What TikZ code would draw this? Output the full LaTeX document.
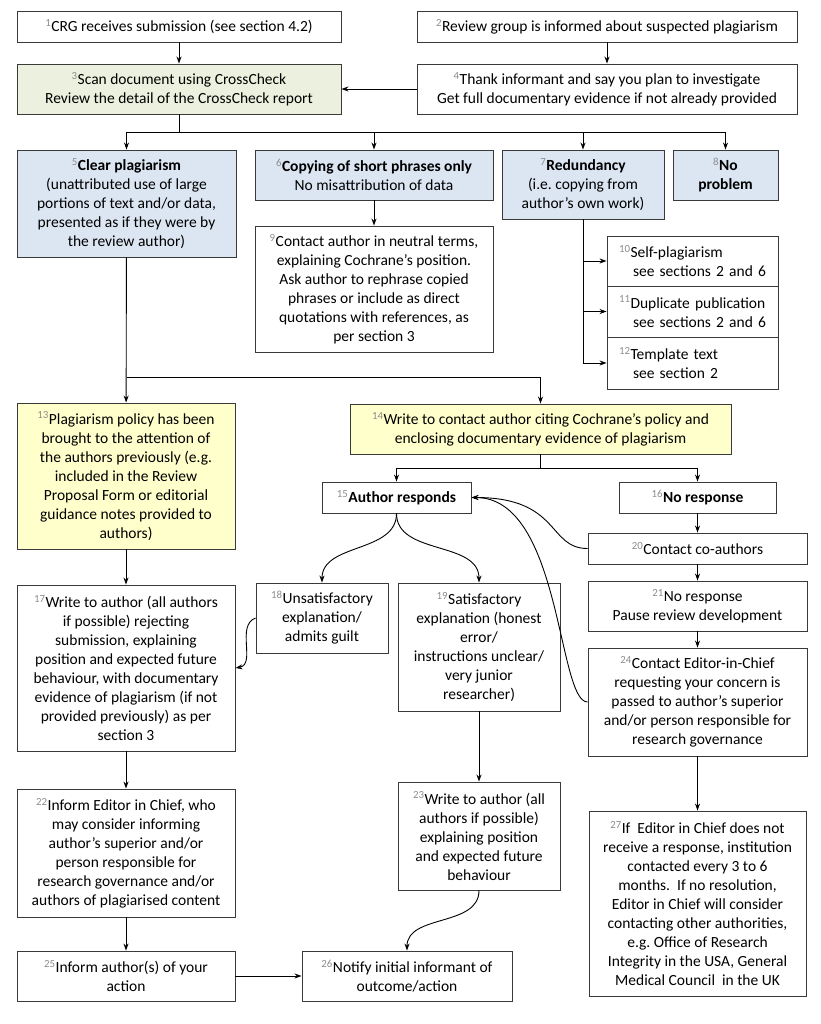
\documentclass[tikz,border=0pt]{standalone}
\usepackage{fontspec}
\setmainfont{Carlito}
\usepackage{tikz}
\usetikzlibrary{arrows.meta}
\definecolor{scanfill}{HTML}{EBF1DE}
\definecolor{typefill}{HTML}{DCE6F2}
\definecolor{notefill}{HTML}{FFFFCC}
\definecolor{edge}{HTML}{3A3A3A}
\definecolor{numgray}{HTML}{8C8C8C}
\newcommand{\stepno}[1]{\textsuperscript{\color{numgray}#1}}

\begin{document}
\begin{tikzpicture}[x=1pt, y=-1pt, font=\fontsize{15.5}{19}\selectfont,
  box/.style={draw=edge, line width=0.9pt, align=center, inner sep=2pt},
  arr/.style={-{Stealth[length=7pt, width=5pt]}, line width=0.9pt},
  link/.style={line width=0.9pt}]
  \useasboundingbox (0,0) rectangle (820,1024);
  % intake
  \node[box, minimum width=324, minimum height=31] (n1) at (179,26.5)
    {\stepno{1}CRG receives submission (see section 4.2)};
  \node[box, minimum width=380, minimum height=31] (n2) at (607,26.5)
    {\stepno{2}Review group is informed about suspected plagiarism};
  \node[box, fill=scanfill, minimum width=324, minimum height=50] (n3) at (179,89)
    {\stepno{3}Scan document using CrossCheck\\Review the detail of the CrossCheck report};
  \node[box, minimum width=380, minimum height=50] (n4) at (607,89)
    {\stepno{4}Thank informant and say you plan to investigate\\Get full documentary evidence if not already provided};
  % kinds of copying
  \node[box, fill=typefill, minimum width=219, minimum height=107] (n5) at (126.5,203.5)
    {\stepno{5}\textbf{Clear plagiarism}\\(unattributed use of large\\portions of text and/or data,\\presented as if they were by\\the review author)};
  \node[box, fill=typefill, minimum width=238, minimum height=50] (n6) at (374,175)
    {\stepno{6}\textbf{Copying of short phrases only}\\No misattribution of data};
  \node[box, fill=typefill, minimum width=162, minimum height=69] (n7) at (583,184.5)
    {\stepno{7}\textbf{Redundancy}\\(i.e.\ copying from\\author’s own work)};
  \node[box, fill=typefill, minimum width=105, minimum height=50] (n8) at (725.5,175)
    {\stepno{8}\textbf{No}\\\textbf{problem}};
  \node[box, minimum width=238, minimum height=126] (n9) at (374,289)
    {\stepno{9}Contact author in neutral terms,\\explaining Cochrane’s position.\\Ask author to rephrase copied\\phrases or include as direct\\quotations with references, as\\per section 3};
  \node[box, align=left, text width=147, inner xsep=12pt, minimum height=50] (n10) at (692.5,261)
    {\stepno{10}Self-plagiarism\\\hspace*{14pt}see sections 2 and 6};
  \node[box, align=left, text width=147, inner xsep=12pt, minimum height=51] (n11) at (692.5,311.5)
    {\stepno{11}Duplicate publication\\\hspace*{14pt}see sections 2 and 6};
  \node[box, align=left, text width=147, inner xsep=12pt, minimum height=52] (n12) at (692.5,363)
    {\stepno{12}Template text\\\hspace*{14pt}see section 2};
  % contacting the author
  \node[box, fill=notefill, minimum width=218, minimum height=146] (n13) at (126,476)
    {\stepno{13}Plagiarism policy has been\\brought to the attention of\\the authors previously (e.g.\\included in the Review\\Proposal Form or editorial\\guidance notes provided to\\authors)};
  \node[box, fill=notefill, minimum width=381, minimum height=50] (n14) at (540.5,429)
    {\stepno{14}Write to contact author citing Cochrane’s policy and\\enclosing documentary evidence of plagiarism};
  \node[box, minimum width=149, minimum height=31] (n15) at (396.5,497.5)
    {\stepno{15}\textbf{Author responds}};
  \node[box, minimum width=157, minimum height=31] (n16) at (697.5,497.5)
    {\stepno{16}\textbf{No response}};
  \node[box, minimum width=218, minimum height=166] (n17) at (126,668)
    {\stepno{17}Write to author (all authors\\if possible) rejecting\\submission, explaining\\position and expected future\\behaviour, with documentary\\evidence of plagiarism (if not\\provided previously) as per\\section 3};
  \node[box, minimum width=132, minimum height=70] (n18) at (322,618)
    {\stepno{18}Unsatisfactory\\explanation/\\admits guilt};
  \node[box, minimum width=162, minimum height=128] (n19) at (479,647)
    {\stepno{19}Satisfactory\\explanation (honest\\error/\\instructions unclear/\\very junior\\researcher)};
  \node[box, minimum width=219, minimum height=31] (n20) at (697.5,548.5)
    {\stepno{20}Contact co-authors};
  \node[box, minimum width=219, minimum height=50] (n21) at (697.5,606)
    {\stepno{21}No response\\Pause review development};
  \node[box, minimum width=218, minimum height=128] (n22) at (126,853)
    {\stepno{22}Inform Editor in Chief, who\\may consider informing\\author’s superior and/or\\person responsible for\\research governance and/or\\authors of plagiarised content};
  \node[box, minimum width=162, minimum height=108] (n23) at (479,836)
    {\stepno{23}Write to author (all\\authors if possible)\\explaining position\\and expected future\\behaviour};
  \node[box, minimum width=219, minimum height=108] (n24) at (697.5,702)
    {\stepno{24}Contact Editor-in-Chief\\requesting your concern is\\passed to author’s superior\\and/or person responsible for\\research governance};
  \node[box, minimum width=218, minimum height=50] (n25) at (126,976)
    {\stepno{25}Inform author(s) of your\\action};
  \node[box, minimum width=210, minimum height=50] (n26) at (407,976)
    {\stepno{26}Notify initial informant of\\outcome/action};
  \node[box, minimum width=217, minimum height=185] (n27) at (697.5,903.5)
    {\stepno{27}If\ \ Editor in Chief does not\\receive a response, institution\\contacted every 3 to 6\\months.\ \ If no resolution,\\Editor in Chief will consider\\contacting other authorities,\\e.g.\ Office of Research\\Integrity in the USA, General\\Medical Council\ \ in the UK};
  % junctions
  \coordinate (j3) at (179,132);
  \coordinate (j5) at (126.5,377);
  \coordinate (j14) at (540.5,468);
  % straight connectors
  \draw[arr] (n1) -- (n3);
  \draw[arr] (n2) -- (n4);
  \draw[arr] (n4) -- (n3);
  \draw[link] (n3.south) -- (j3);
  \foreach \t in {n5,n6,n7,n8}
    \draw[arr] (j3) -| (\t.north);
  \draw[arr] (n6) -- (n9);
  \foreach \t in {n10,n11,n12}
    \draw[arr] (n7.south) |- (\t.west);
  \draw[arr] (n5) -- (n13);
  \draw[arr] (j5) -| (n14.north);
  \draw[link] (n14.south) -- (j14);
  \draw[arr] (j14) -| (n15.north);
  \draw[arr] (j14) -| (n16.north);
  \draw[arr] (n16) -- (n20);
  \draw[arr] (n20) -- (n21);
  \draw[arr] (n21) -- (n24);
  \draw[arr] (n24) -- (n27);
  \draw[arr] (n13) -- (n17);
  \draw[arr] (n17) -- (n22);
  \draw[arr] (n22) -- (n25);
  \draw[arr] (n25) -- (n26);
  \draw[arr] (n19) -- (n23);
  % curved connectors
  \draw[arr] (n15.south) to[out=-90, in=90] (n18.north);
  \draw[arr] (n15.south) to[out=-90, in=90] (n19.north);
  \draw[arr] (n18.west) to[out=200, in=10] (n17.east);
  \draw[arr] (n23.south) to[out=-90, in=90] (n26.north);
  \draw[arr] (n20.west) .. controls +(-40,0) and +(89,0) .. (n15.east);
  \draw[arr] (n24.west) .. controls +(-30,0) and +(90,0) .. (n15.east);
\end{tikzpicture}
\end{document}
